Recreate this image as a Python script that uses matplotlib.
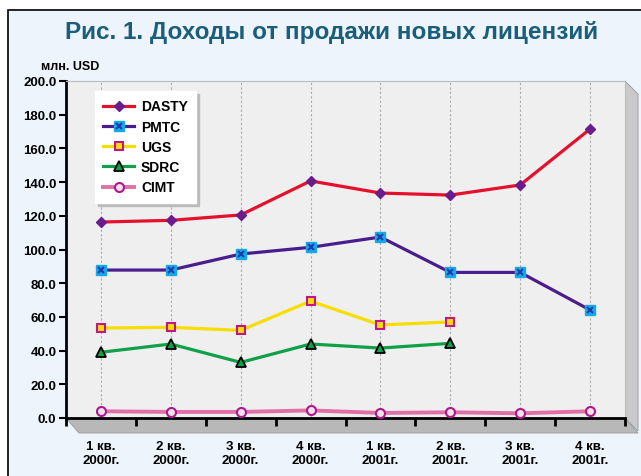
import numpy as np
import matplotlib.pyplot as plt
from matplotlib.patches import Rectangle, Polygon
from matplotlib.legend_handler import HandlerTuple

quarters = ["1 кв.\n2000г.", "2 кв.\n2000г.", "3 кв.\n2000г.", "4 кв.\n2000г.",
            "1 кв.\n2001г.", "2 кв.\n2001г.", "3 кв.\n2001г.", "4 кв.\n2001г."]
dasty = [116.3, 117.3, 120.5, 140.7, 133.5, 132.3, 138.3, 171.5]
pmtc = [87.8, 87.8, 97.3, 101.3, 107.4, 86.4, 86.4, 64.1]
ugs = [53.4, 53.8, 52.0, 69.4, 55.2, 57.0]
sdrc = [39.0, 43.9, 33.0, 43.9, 41.5, 44.3]
cimt = [4.0, 3.6, 3.6, 4.5, 3.0, 3.4, 2.8, 4.0]
yticks = np.arange(0, 201, 20)

W, H = 641, 477
FONT = ["Liberation Sans", "DejaVu Sans"]


def px(x, y):
    # pixel coords (from top-left) -> figure fraction
    return x / W, 1 - y / H


fig = plt.figure(figsize=(W / 100, H / 100), dpi=100)
fig.patch.set_facecolor("white")

# light blue panel with black frame
fig.patches.append(Rectangle(px(8, 500), 700 / W, 489 / H, transform=fig.transFigure,
                             facecolor="#edf4fb", edgecolor="black", lw=1.2, zorder=-10))

fig.text(0.518, px(0, 32)[1], "Рис. 1. Доходы от продажи новых лицензий",
         ha="center", va="center", fontsize=17.5, fontweight="bold",
         color="#1b5e7b", family=FONT)
fig.text(*px(41, 67), "млн. USD", ha="left", va="center", fontsize=9,
         fontweight="bold", family=FONT)

L, R, T, B = 66, 625, 82, 419
ax = fig.add_axes([L / W, 1 - B / H, (R - L) / W, (B - T) / H])
ax.set_facecolor("#efefef")

# 3D side wall and floor
d = 13
wall = Polygon([px(R, T), px(R + d, T + d), px(R + d, B + d), px(R, B)],
               closed=True, transform=fig.transFigure, facecolor="#c9c9c9",
               edgecolor="#999999", lw=0.6, zorder=-5)
floor = Polygon([px(L, B), px(R, B), px(R + d, B + d + 2), px(L + d, B + d + 2)],
                closed=True, transform=fig.transFigure, facecolor="#b8b8b8",
                edgecolor="#999999", lw=0.6, zorder=-5)
fig.patches.extend([wall, floor])

x = np.arange(len(quarters))
ax.set_xlim(-0.5, len(quarters) - 0.5)
ax.set_ylim(0, 200)

for xi in x:
    ax.axvline(xi, color="#aaaaaa", lw=0.8, ls=(0, (2, 2)), zorder=1)

h1, = ax.plot(x, dasty, color="#e5102c", lw=2.3, marker="D", ms=5,
              mfc="#6a1b8c", mec="#6a1b8c", zorder=5)
h2, = ax.plot(x, pmtc, color="#4a1d8c", lw=2.3, marker="s", ms=6.5,
              mfc="#19a8e6", mec="#19a8e6", zorder=5)
h2x, = ax.plot(x, pmtc, ls="none", marker="x", ms=5, mew=1.5, mec="#1a3fb0", zorder=6)
h3, = ax.plot(np.arange(len(ugs)), ugs, color="#f7de00", lw=2.3, marker="s", ms=6,
              mfc="#f7de00", mec="#c0168c", mew=1.5, zorder=5)
h4, = ax.plot(np.arange(len(sdrc)), sdrc, color="#10a048", lw=2.3, marker="^", ms=7,
              mfc="#10a048", mec="black", mew=1.3, zorder=5)
h5, = ax.plot(x, cimt, color="#e070a6", lw=2.8, marker="o", ms=6.5,
              mfc="#efe3ea", mec="#b0178c", mew=1.5, zorder=5)

for s in ["top", "right"]:
    ax.spines[s].set_color("#bbbbbb")
    ax.spines[s].set_linewidth(0.8)
for s in ["left", "bottom"]:
    ax.spines[s].set_linewidth(2)

ax.set_yticks(yticks)
ax.set_yticklabels([f"{v:.1f}" for v in yticks], fontsize=9.5, fontweight="bold",
                   family=FONT)
ax.set_xticks(np.arange(-0.5, len(quarters)))
ax.set_xticklabels([])
ax.set_xticks(x, minor=True)
ax.set_xticklabels(quarters, minor=True, fontsize=9.5, fontweight="bold",
                   family=FONT, linespacing=1.15)
ax.tick_params(axis="x", which="major", length=6, width=2, direction="out")
ax.tick_params(axis="x", which="minor", length=0, pad=16)
ax.tick_params(axis="y", length=5, width=1.5, pad=2)

# legend with drop shadow
leg = ax.legend([h1, (h2, h2x), h3, h4, h5], ["DASTY", "PMTC", "UGS", "SDRC", "CIMT"],
                handler_map={tuple: HandlerTuple(ndivide=1)},
                loc="upper left", bbox_to_anchor=(0.052, 0.97), frameon=True,
                fancybox=False, shadow={"color": "#bbbbbb", "alpha": 1},
                prop={"family": FONT, "weight": "bold", "size": 10},
                handlelength=2.2, handletextpad=0.5, labelspacing=0.45,
                borderpad=0.6, borderaxespad=0)
leg.get_frame().set_edgecolor("white")
leg.get_frame().set_facecolor("white")
leg.set_zorder(10)

fig.savefig("out.png", dpi=100)
